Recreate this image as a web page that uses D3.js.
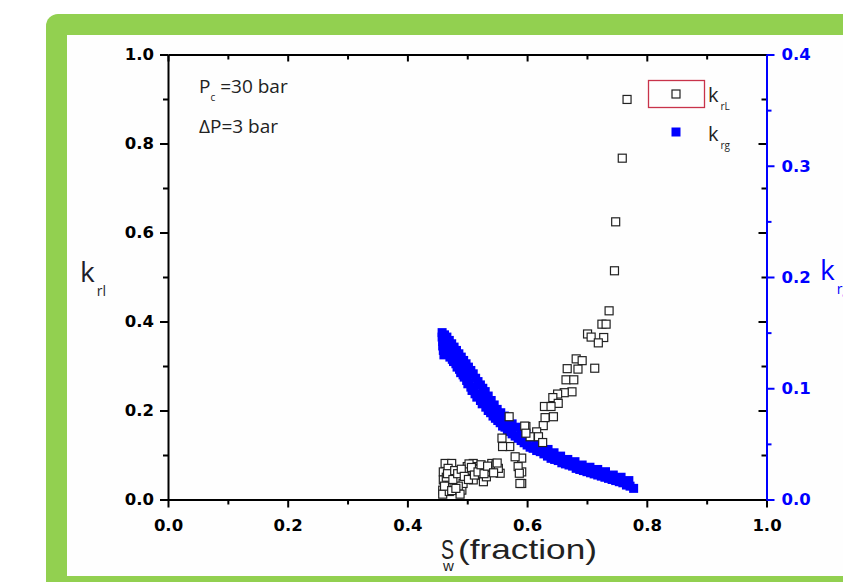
<!DOCTYPE html>
<html>
<head>
<meta charset="utf-8">
<script src="https://cdn.jsdelivr.net/npm/d3@7"></script>
<style>
  body { margin: 0; background: #ffffff; }
  svg { display: block; }
</style>
</head>
<body>
<script>
// k_rL (open squares), left axis
var swL = [0.767, 0.759, 0.748, 0.746, 0.737, 0.725, 0.732, 0.701, 0.707, 0.728, 0.719, 0.682, 0.692, 0.667, 0.685, 0.713,
  0.665, 0.678, 0.675, 0.662, 0.651, 0.643, 0.652, 0.629, 0.640, 0.644, 0.630, 0.627, 0.598, 0.616, 0.605, 0.619, 0.626,
  0.591, 0.591, 0.591, 0.570, 0.596, 0.598, 0.558, 0.571, 0.559, 0.580, 0.585, 0.587, 0.588,
  0.463, 0.474, 0.460, 0.460, 0.459, 0.471, 0.482, 0.488, 0.491, 0.493, 0.500, 0.510, 0.516, 0.521, 0.527, 0.532, 0.541,
  0.546, 0.555, 0.505, 0.510, 0.521, 0.465, 0.478, 0.485, 0.498, 0.503, 0.513, 0.525, 0.536, 0.540, 0.548, 0.552, 0.530,
  0.468, 0.459, 0.488, 0.470,
  0.462, 0.467, 0.476, 0.479, 0.484, 0.490, 0.495, 0.502, 0.507, 0.512, 0.518, 0.523, 0.528, 0.534, 0.544, 0.550, 0.474, 0.481];
var krL = [0.899, 0.767, 0.624, 0.514, 0.424, 0.394, 0.394, 0.372, 0.365, 0.364, 0.352, 0.316, 0.312, 0.294, 0.293, 0.295,
  0.269, 0.269, 0.242, 0.240, 0.237, 0.229, 0.216, 0.209, 0.209, 0.186, 0.184, 0.166, 0.164, 0.152, 0.141, 0.141, 0.128,
  0.093, 0.062, 0.036, 0.186, 0.165, 0.149, 0.138, 0.119, 0.119, 0.096, 0.074, 0.059, 0.036,
  0.081, 0.081, 0.062, 0.044, 0.021, 0.036, 0.062, 0.044, 0.021, 0.036, 0.074, 0.081, 0.074, 0.055, 0.040, 0.051, 0.081,
  0.066, 0.059, 0.059, 0.044, 0.070, 0.050, 0.028, 0.030, 0.065, 0.080, 0.068, 0.066, 0.062, 0.072, 0.078, 0.070, 0.072,
  0.070, 0.012, 0.012, 0.018,
  0.030, 0.058, 0.045, 0.065, 0.058, 0.068, 0.052, 0.045, 0.072, 0.055, 0.062, 0.078, 0.058, 0.075, 0.060, 0.082, 0.020, 0.025];

// k_rg (filled squares), right axis: centre of the band, then its upper row
var swG = [0.458, 0.458, 0.459, 0.459, 0.460, 0.461, 0.463, 0.465, 0.467, 0.469, 0.471, 0.473, 0.475, 0.477, 0.479, 0.481,
  0.483, 0.485, 0.487, 0.489, 0.491, 0.493, 0.495, 0.497, 0.499, 0.501, 0.503, 0.506, 0.508, 0.511, 0.513, 0.516, 0.519,
  0.522, 0.525, 0.528, 0.531, 0.535, 0.539, 0.543, 0.547, 0.551, 0.555, 0.559, 0.563, 0.567, 0.571, 0.575, 0.580, 0.585,
  0.590, 0.595, 0.600, 0.605, 0.610, 0.616, 0.622, 0.628, 0.634, 0.640, 0.646, 0.652, 0.658, 0.664, 0.670, 0.676, 0.682,
  0.688, 0.694, 0.700, 0.706, 0.712, 0.718, 0.724, 0.730, 0.736, 0.742, 0.748, 0.754, 0.760, 0.766, 0.772, 0.778,
  0.462, 0.466, 0.470, 0.474, 0.478, 0.482, 0.486, 0.490, 0.494, 0.498, 0.502, 0.506, 0.510, 0.514, 0.518, 0.522, 0.526,
  0.530, 0.535, 0.540, 0.545, 0.550, 0.556, 0.562, 0.568, 0.575, 0.582, 0.590, 0.598, 0.606, 0.615, 0.625, 0.635, 0.645,
  0.656, 0.668, 0.680, 0.692, 0.705, 0.718, 0.731, 0.744, 0.757, 0.770];
var krg = [0.150, 0.146, 0.142, 0.138, 0.134, 0.130, 0.142, 0.138, 0.135, 0.131, 0.128, 0.130, 0.126, 0.124, 0.126, 0.122,
  0.119, 0.121, 0.117, 0.114, 0.116, 0.112, 0.110, 0.111, 0.107, 0.104, 0.105, 0.101, 0.098, 0.099, 0.095, 0.092, 0.093,
  0.089, 0.086, 0.087, 0.083, 0.080, 0.078, 0.075, 0.073, 0.071, 0.069, 0.066, 0.065, 0.063, 0.061, 0.059, 0.057, 0.055,
  0.053, 0.051, 0.049, 0.047, 0.046, 0.044, 0.043, 0.041, 0.039, 0.037, 0.036, 0.035, 0.033, 0.032, 0.031, 0.030, 0.028,
  0.027, 0.026, 0.025, 0.024, 0.023, 0.022, 0.021, 0.020, 0.019, 0.018, 0.017, 0.016, 0.015, 0.013, 0.012, 0.010,
  0.148, 0.146, 0.143, 0.140, 0.137, 0.134, 0.131, 0.128, 0.125, 0.122, 0.119, 0.116, 0.113, 0.109, 0.106, 0.103, 0.100,
  0.097, 0.093, 0.089, 0.085, 0.081, 0.078, 0.075, 0.071, 0.068, 0.065, 0.061, 0.058, 0.055, 0.051, 0.048, 0.045, 0.042,
  0.039, 0.036, 0.034, 0.031, 0.029, 0.027, 0.025, 0.022, 0.020, 0.017];

// ticks
var xMajor = [0, 0.2, 0.4, 0.6, 0.8, 1.0];
var xMinor = [0.1, 0.3, 0.5, 0.7, 0.9];
var yLMajor = [0, 0.2, 0.4, 0.6, 0.8, 1.0];
var yLMinor = [0.1, 0.3, 0.5, 0.7, 0.9];
var yRMajor = [0, 0.1, 0.2, 0.3, 0.4];
var yRMinor = [0.05, 0.15, 0.25, 0.35];

var W = 843, H = 582;
var blue = "#0000ff";
var tickFont = "'DejaVu Sans', Verdana, sans-serif";
var textFont = "'Open Sans', 'Noto Sans', sans-serif";
var arial = "'Liberation Sans', Arial, sans-serif";

var svg = d3.select("body").append("svg")
  .attr("width", W)
  .attr("height", H);

// green frame
svg.append("rect")
  .attr("x", 46).attr("y", 14)
  .attr("width", 900).attr("height", 620)
  .attr("rx", 12)
  .attr("fill", "#92d050");
svg.append("rect")
  .attr("x", 67).attr("y", 35)
  .attr("width", 900).attr("height", 541)
  .attr("fill", "#fefefe");

var x = d3.scaleLinear().domain([0, 1]).range([168, 766.5]);
var yL = d3.scaleLinear().domain([0, 1]).range([499.5, 54.5]);
var yR = d3.scaleLinear().domain([0, 0.4]).range([499.5, 54.5]);
var fmt = d3.format(".1f");

function styleAxis(g, color) {
  g.selectAll("path").attr("stroke", color).attr("stroke-width", 2);
  g.selectAll("line").attr("stroke", color).attr("stroke-width", 2);
  g.selectAll("text")
    .attr("fill", color)
    .style("font-family", tickFont)
    .style("font-size", "16.5px")
    .style("font-weight", "bold");
}

// bottom axis
var gb = svg.append("g").attr("transform", "translate(0," + yL(0) + ")");
gb.call(d3.axisBottom(x).tickValues(xMajor).tickFormat(fmt).tickSize(8).tickSizeOuter(0).tickPadding(12));
gb.append("g").call(d3.axisBottom(x).tickValues(xMinor).tickFormat("").tickSize(5)).select(".domain").remove();
styleAxis(gb, "#000");

// top axis (inward ticks)
var gt = svg.append("g").attr("transform", "translate(0," + yL(1) + ")");
gt.call(d3.axisTop(x).tickValues(xMajor).tickFormat("").tickSize(-7).tickSizeOuter(0));
gt.append("g").call(d3.axisTop(x).tickValues(xMinor).tickFormat("").tickSize(-5)).select(".domain").remove();
styleAxis(gt, "#000");

// left axis
var gl = svg.append("g").attr("transform", "translate(" + x(0) + ",0)");
gl.call(d3.axisLeft(yL).tickValues(yLMajor).tickFormat(fmt).tickSize(8).tickSizeOuter(0).tickPadding(6));
gl.append("g").call(d3.axisLeft(yL).tickValues(yLMinor).tickFormat("").tickSize(5)).select(".domain").remove();
styleAxis(gl, "#000");

// mirror of left ticks on the right edge (inward, black)
var gm = svg.append("g").attr("transform", "translate(" + x(1) + ",0)");
gm.append("g").call(d3.axisRight(yL).tickValues(yLMajor).tickFormat("").tickSize(-8));
gm.append("g").call(d3.axisRight(yL).tickValues(yLMinor).tickFormat("").tickSize(-5));
gm.selectAll(".domain").remove();
styleAxis(gm, "#000");

// right axis (blue)
var gr = svg.append("g").attr("transform", "translate(" + x(1) + ",0)");
gr.call(d3.axisRight(yR).tickValues(yRMajor).tickFormat(fmt).tickSize(8).tickSizeOuter(0).tickPadding(7));
gr.append("g").call(d3.axisRight(yR).tickValues(yRMinor).tickFormat("").tickSize(5)).select(".domain").remove();
styleAxis(gr, blue);

// k_rg points
var gData = d3.range(swG.length).map(function(i) { return {sw: swG[i], k: krg[i]}; });
svg.append("g").selectAll("rect")
  .data(gData)
  .enter()
  .append("rect")
    .attr("x", function(d) { return x(d.sw) - 4.5; })
    .attr("y", function(d) { return yR(d.k) - 4.5; })
    .attr("width", 9)
    .attr("height", 9)
    .attr("fill", blue);

// k_rL points
var lData = d3.range(swL.length).map(function(i) { return {sw: swL[i], k: krL[i]}; });
svg.append("g").selectAll("rect")
  .data(lData)
  .enter()
  .append("rect")
    .attr("x", function(d) { return x(d.sw) - 4; })
    .attr("y", function(d) { return yL(d.k) - 4; })
    .attr("width", 8)
    .attr("height", 8)
    .attr("fill", "#ffffff")
    .attr("stroke", "#222")
    .attr("stroke-width", 1.2);

// legend
svg.append("rect")
  .attr("x", 648.5).attr("y", 80.5)
  .attr("width", 56).attr("height", 27)
  .attr("fill", "none")
  .attr("stroke", "#c8334a")
  .attr("stroke-width", 1.3);
svg.append("rect")
  .attr("x", 672).attr("y", 90).attr("width", 8).attr("height", 8)
  .attr("fill", "#fff").attr("stroke", "#222").attr("stroke-width", 1.2);
svg.append("rect")
  .attr("x", 671.5).attr("y", 127.5).attr("width", 9).attr("height", 9)
  .attr("fill", blue);

function subText(px, py, main, sub, size, color, subDx, subDy) {
  var t = svg.append("text")
    .attr("x", px).attr("y", py)
    .attr("fill", color)
    .style("font-family", textFont)
    .style("font-size", size + "px");
  t.append("tspan").text(main);
  t.append("tspan")
    .attr("dx", subDx || 1)
    .attr("dy", subDy || size * 0.45)
    .style("font-size", Math.round(size * 0.5) + "px")
    .text(sub);
  return t;
}

subText(708, 102, "k", "rL", 20, "#222", 2, 8);
subText(708, 141, "k", "rg", 20, "#222", 2, 8);

// annotations
var ann = svg.append("text")
  .attr("x", 199).attr("y", 93)
  .attr("fill", "#222")
  .style("font-family", textFont)
  .style("font-size", "19px");
ann.append("tspan").text("P");
ann.append("tspan").attr("dy", 8).style("font-size", "10px").text("c");
ann.append("tspan").attr("dy", -8).text(" =30 bar");
svg.append("text")
  .attr("x", 199).attr("y", 133)
  .attr("fill", "#222")
  .style("font-family", textFont)
  .style("font-size", "19px")
  .text("\u0394P=3 bar");

// axis titles
subText(80, 282, "k", "rl", 28, "#1d1d2b", 2, 14);
subText(820, 280, "k", "rg", 28, blue, 2, 14);

svg.append("text")
  .attr("x", 441).attr("y", 559)
  .attr("fill", "#222")
  .attr("textLength", 13)
  .attr("lengthAdjust", "spacingAndGlyphs")
  .style("font-family", arial)
  .style("font-size", "27px")
  .text("S");
svg.append("text")
  .attr("x", 443).attr("y", 571)
  .attr("fill", "#222")
  .style("font-family", arial)
  .style("font-size", "15px")
  .text("w");
svg.append("text")
  .attr("x", 458).attr("y", 559)
  .attr("fill", "#222")
  .attr("textLength", 139)
  .attr("lengthAdjust", "spacingAndGlyphs")
  .style("font-family", arial)
  .style("font-size", "28px")
  .text("(fraction)");
</script>
</body>
</html>
